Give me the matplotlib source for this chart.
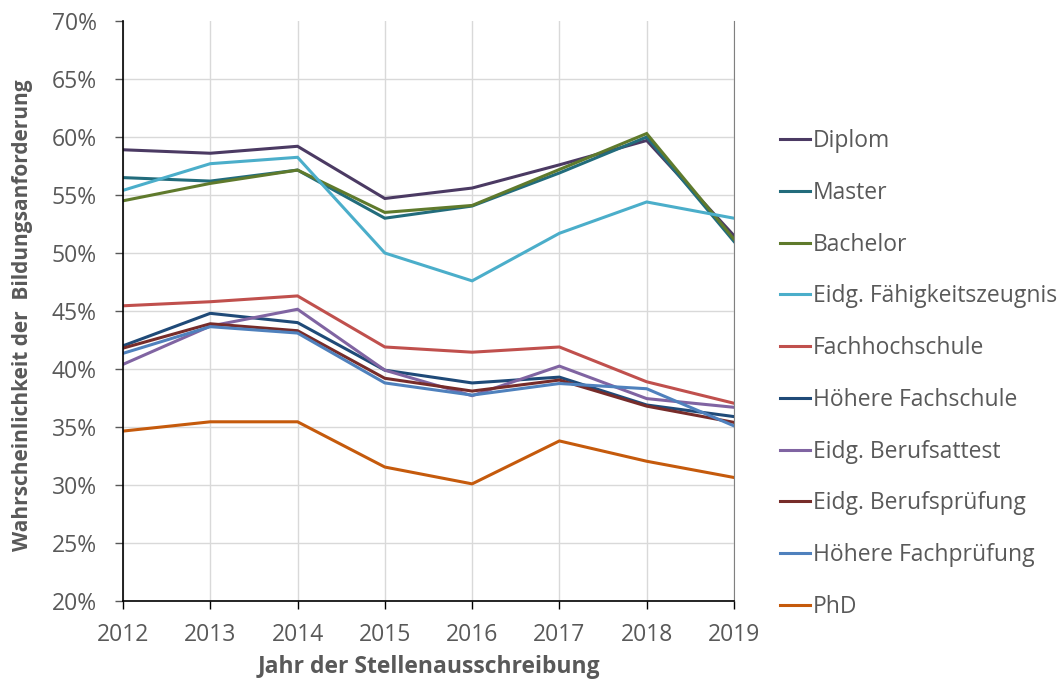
import numpy as np
import matplotlib.pyplot as plt
from matplotlib.ticker import PercentFormatter

plt.rcParams['font.family'] = ['Open Sans', 'DejaVu Sans']

years = [2012, 2013, 2014, 2015, 2016, 2017, 2018, 2019]

labels = ["Diplom", "Master", "Bachelor", "Eidg. Fähigkeitszeugnis",
          "Fachhochschule", "Höhere Fachschule", "Eidg. Berufsattest",
          "Eidg. Berufsprüfung", "Höhere Fachprüfung", "PhD"]

diplom = [58.9, 58.6, 59.2, 54.7, 55.6, 57.6, 59.7, 51.5]
master = [56.5, 56.2, 57.15, 53.0, 54.05, 56.9, 60.0, 51.0]
bachelor = [54.5, 56.0, 57.15, 53.5, 54.1, 57.2, 60.3, 51.2]
efz = [55.4, 57.7, 58.25, 50.0, 47.6, 51.7, 54.4, 53.0]
fachhochschule = [45.45, 45.8, 46.3, 41.9, 41.45, 41.9, 38.9, 37.05]
hoehere_fachschule = [42.0, 44.8, 44.0, 39.9, 38.8, 39.3, 36.9, 35.9]
berufsattest = [40.4, 43.7, 45.15, 39.9, 37.7, 40.25, 37.45, 36.7]
berufspruefung = [41.8, 43.9, 43.3, 39.2, 38.1, 39.05, 36.8, 35.4]
hoehere_fachpruefung = [41.35, 43.65, 43.1, 38.8, 37.75, 38.75, 38.3, 35.1]
phd = [34.65, 35.45, 35.45, 31.55, 30.1, 33.8, 32.05, 30.65]

series = [diplom, master, bachelor, efz, fachhochschule, hoehere_fachschule,
          berufsattest, berufspruefung, hoehere_fachpruefung, phd]

colors = ["#4B3A63", "#226C7C", "#5F7A2C", "#4BAECA", "#C0504D",
          "#1F4A78", "#8064A2", "#772C2A", "#4F81BD", "#C55A0C"]

fig = plt.figure(figsize=(10.62, 6.84), dpi=100)
ax = fig.add_axes([0.1158, 0.1213, 0.5753, 0.848])

for vals, lab, col in zip(series, labels, colors):
    ax.plot(years, vals, color=col, lw=2.2, label=lab, solid_joinstyle='miter')

ax.set_xlim(2012, 2019)
ax.set_ylim(20, 70)
ax.set_xticks(years)
ax.set_yticks(np.arange(20, 71, 5))
ax.yaxis.set_major_formatter(PercentFormatter(decimals=0))

ax.grid(True, color="#D9D9D9", lw=1.0)
ax.set_axisbelow(True)
# no gridline along the top edge
ax.yaxis.get_gridlines()[-1].set_visible(False)
ax.spines["top"].set_visible(False)
ax.spines["right"].set_color("#808080")
ax.spines["left"].set_color("black")
ax.spines["bottom"].set_color("black")
ax.spines["left"].set_linewidth(1.2)
ax.spines["bottom"].set_linewidth(1.2)
ax.tick_params(axis='both', direction='out', length=6, width=1.0,
               labelcolor="#595959", labelsize=16.5)
ax.tick_params(axis='x', color='black', pad=10)
ax.tick_params(axis='y', color='#595959', pad=13)

ax.set_xlabel("Jahr der Stellenausschreibung", fontsize=16.5, fontweight='bold',
              color="#595959", va='center')
ax.xaxis.set_label_coords(0.5, -0.114)
ax.set_ylabel("Wahrscheinlichkeit der  Bildungsanforderung", fontsize=15,
              fontweight='bold', color="#595959", va='center')
ax.yaxis.set_label_coords(-0.165, 0.493)

leg = fig.legend(loc='upper left', bbox_to_anchor=(0.7345, 0.811),
                 frameon=False, fontsize=16.5, labelspacing=1.21,
                 handlelength=1.31, handletextpad=0.13, borderaxespad=0,
                 borderpad=0)
for t in leg.get_texts():
    t.set_color("#595959")

fig.savefig("out.png", dpi=100)
